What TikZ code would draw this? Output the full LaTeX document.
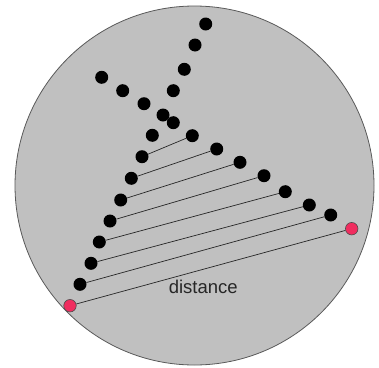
\documentclass[tikz,border=0pt]{standalone}
\usepackage{fontspec}
\setmainfont{Liberation Sans}
\usepackage{xcolor}
\usetikzlibrary{positioning}
\definecolor{discgray}{RGB}{192,192,192}
\definecolor{endred}{RGB}{240,45,95}

\begin{document}
\begin{tikzpicture}[x=1pt, y=-1pt,
    dot/.style={circle, fill=black, inner sep=0pt, minimum size=13pt},
    enddot/.style={circle, fill=endred, draw=black!70, line width=0.6pt, inner sep=0pt, minimum size=12.5pt},
    rung/.style={draw=black!85, line width=0.7pt}]
    \useasboundingbox (0,0) rectangle (379,367);
    % 1. Disc
    \draw[fill=discgray, draw=black!65, line width=0.8pt] (194.5,185.5) circle (179.5pt);

    % 2. Upper arms
    \foreach \x/\y [count=\i] in {205.7/24, 195/45, 184.3/69.3, 173.3/90.7, 163/115} {
        \node[dot] (a\i) at (\x,\y) {};
    }
    \foreach \x/\y [count=\i] in {101.7/77.3, 122.7/90.7, 144/103.7, 173.3/122.7} {
        \node[dot] (b\i) at (\x,\y) {};
    }
    \node[dot] (m) at (152.3,135.3) {};

    % 3. Lower arms
    \foreach \x/\y [count=\i] in {142/156.7, 131.3/178.3, 120.7/200, 110/221, 99.3/242, 91/263.3, 80/284.3} {
        \node[dot] (l\i) at (\x,\y) {};
    }
    \foreach \x/\y [count=\i] in {192.3/135.7, 216.7/149, 240/162.3, 264/175.7, 285.3/191.7, 309.3/205, 330.7/215} {
        \node[dot] (r\i) at (\x,\y) {};
    }
    \node[enddot] (l8) at (70,305.7) {};
    \node[enddot] (r8) at (351.7,228.7) {};

    % 4. Rungs
    \foreach \i in {1,...,8} {
        \draw[rung] (l\i) -- (r\i);
    }
    \node[font=\fontsize{18.5}{20}\selectfont, text=black!85] (dist) at (203.3,286.7) {distance};
\end{tikzpicture}
\end{document}
